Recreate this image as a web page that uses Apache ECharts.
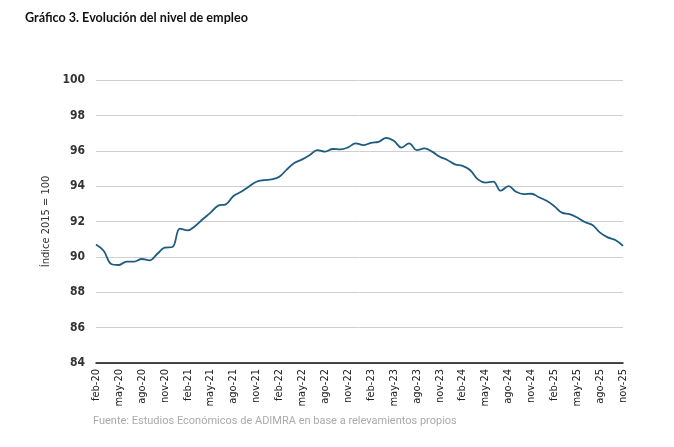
<!DOCTYPE html>
<html>
<head>
<meta charset="utf-8">
<script src="https://cdn.jsdelivr.net/npm/echarts@6/dist/echarts.min.js"></script>
<style>
html,body{margin:0;padding:0;background:#fff;}
#c{width:674px;height:447px;}
</style>
</head>
<body>
<div id="c"></div>
<script>
const months = ['ene','feb','mar','abr','may','jun','jul','ago','sep','oct','nov','dic'];
const categories = [];
for (let y = 2020; y <= 2025; y++) {
  for (let m = 0; m < 12; m++) {
    if (y === 2020 && m < 1) continue;
    if (y === 2025 && m > 10) continue;
    categories.push(months[m] + '-' + String(y).slice(2));
  }
}
const empleo = [
  90.7, 90.35, 89.6, 89.54, 89.73, 89.73, 89.88, 89.8, 90.16, 90.52, 90.56, 91.6,
  91.5, 91.75, 92.14, 92.5, 92.9, 92.97, 93.44, 93.68, 93.97, 94.25, 94.34, 94.38,
  94.53, 94.95, 95.32, 95.51, 95.76, 96.04, 95.95, 96.1, 96.08, 96.19, 96.42, 96.32,
  96.45, 96.5, 96.73, 96.56, 96.18, 96.42, 96.04, 96.13, 95.95, 95.66, 95.48, 95.23,
  95.14, 94.9, 94.38, 94.2, 94.25, 93.74, 94.0, 93.68, 93.55, 93.57, 93.37, 93.17,
  92.87, 92.5, 92.42, 92.23, 91.97, 91.8, 91.37, 91.1, 90.95, 90.62
];
const yTicks = { min: 84, max: 100, interval: 2 };

const chart = echarts.init(document.getElementById('c'));
chart.setOption({
  animation: false,
  title: [{
    text: 'Gráfico 3. Evolución del nivel de empleo',
    left: 20, top: 6,
    textStyle: { fontFamily: 'Lato', fontSize: 12.6, fontWeight: 'bold', color: '#111' }
  }, {
    text: 'Fuente: Estudios Económicos de ADIMRA en base a relevamientos propios',
    left: 88, top: 411,
    textStyle: { fontFamily: 'Roboto', fontSize: 11, fontWeight: 'normal', color: '#aaa' }
  }],
  grid: { left: 96, right: 51, top: 80, bottom: 84 },
  xAxis: {
    type: 'category',
    data: categories,
    boundaryGap: false,
    axisLine: { lineStyle: { color: '#111', width: 1.5 } },
    axisTick: { show: false },
    axisLabel: {
      interval: 2, rotate: 90, margin: 6,
      fontFamily: 'Liberation Sans Narrow, DejaVu Sans Condensed, sans-serif',
      fontSize: 11, color: '#222'
    }
  },
  yAxis: {
    type: 'value',
    min: yTicks.min, max: yTicks.max, interval: yTicks.interval,
    name: 'Índice 2015 = 100',
    nameLocation: 'middle', nameGap: 44, nameRotate: 90,
    nameTextStyle: { fontFamily: 'Liberation Sans Narrow, DejaVu Sans Condensed, sans-serif', fontSize: 11, color: '#333' },
    axisLine: { show: false },
    axisTick: { show: false },
    splitLine: { lineStyle: { color: '#cfcfcf', width: 1 } },
    axisLabel: {
      margin: 11,
      fontFamily: 'Liberation Sans Narrow, DejaVu Sans Condensed, sans-serif',
      fontSize: 12, fontWeight: 'bold', color: '#333'
    }
  },
  series: [{
    type: 'line',
    data: empleo,
    smooth: 0.4,
    showSymbol: false,
    lineStyle: { color: '#1d5b80', width: 1.8 },
    itemStyle: { color: '#1d5b80' }
  }]
});
</script>
</body>
</html>
